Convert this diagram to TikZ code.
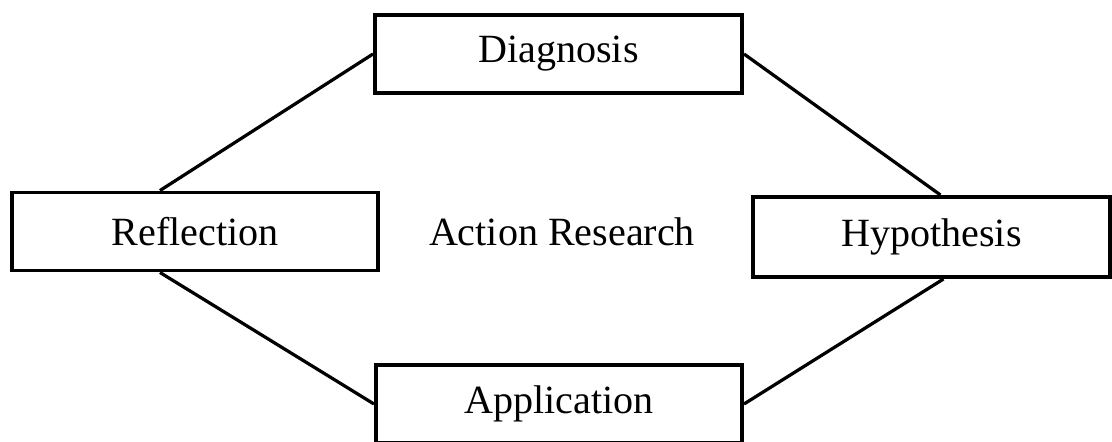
\documentclass[tikz,border=0pt]{standalone}
\usepackage{fontspec}
\setmainfont{Liberation Serif}
\usepackage{tikz}
\usetikzlibrary{positioning}

\tikzset{
  stagebox/.style={draw=black, line width=2.8pt, fill=white,
                   minimum height=1.95cm, inner sep=0pt,
                   font=\fontsize{28.5}{34}\selectfont},
  cycleline/.style={draw=black, line width=2.3pt}
}

\begin{document}
\begin{tikzpicture}[x=0.025cm, y=-0.025cm]
  \useasboundingbox (0,0) rectangle (1112,441);

  % Étapes du cycle
  \node[stagebox, minimum width=9.175cm] (diag) at (558.5,54) {Diagnosis};
  \node[stagebox, minimum width=9.15cm]  (refl) at (195,231.5) {Reflection};
  \node[stagebox, minimum width=8.925cm, minimum height=2cm]
      (hypo) at (931.5,237) {Hypothesis};
  \node[stagebox, minimum width=9.15cm]  (appl) at (559,404) {Application};

  % Titre central
  \node[font=\fontsize{28.5}{34}\selectfont] (title) at (562,232) {Action Research};

  % Liaisons
  \draw[cycleline] ([xshift=-0.875cm]refl.north) -- (diag.west);
  \draw[cycleline] (diag.east) -- ([xshift=0.225cm]hypo.north);
  \draw[cycleline] ([xshift=0.3cm]hypo.south) -- (appl.east);
  \draw[cycleline] ([xshift=-0.875cm]refl.south) -- (appl.west);
\end{tikzpicture}
\end{document}
